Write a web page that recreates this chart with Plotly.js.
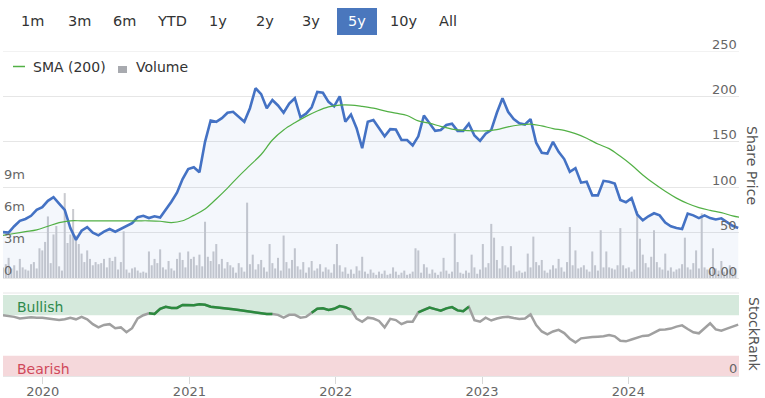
<!DOCTYPE html>
<html><head><meta charset="utf-8">
<script src="https://cdn.plot.ly/plotly-3.0.1.min.js"></script>
<style>html,body{margin:0;padding:0;background:#fff;}#chart{width:765px;height:398px;}</style>
</head><body><div id="chart"></div><script>
// ---------- DATA ----------
const seriesStart = '2019-09-24';
const priceStepDays = 14;
const price = [50.5,50,57,63,65,68.5,75,78,85,89,
 82,75,55,42,52,56,50,47,51,54,
 51,54,57.5,60.5,67,68.5,66,68,66.5,75,
 84,94,109,120,122,116.5,150,173.5,172,176,
 182,183,177,172,187,209,202.5,187,196,190,
 182,192,198,177,181,188,205,204,194,189,
 200,172,180,165,143,172,174,165,156,164,
 163.5,152,152,146,156,179,170,162,163,168.5,
 170,162,162,170,157,151,159,163,182,198,
 183,175,170.5,169,175,149,138,137,150,139,
 131,117,121,105,106,91,91,107,106,104,
 86,83.5,88,70,63.5,68,71.3,69,61,57,
 55,54,71,69,66,69,66,64.5,65.7,61.5,
 57.5,55];
const smaStepDays = 28;
const sma200 = [47,49,51,53,57,61,63,63,63,63,
 63,63,63,63,62.5,61,63,69,76,87,
 99,112,124,136,152,163,171,178,184,188.5,
 190.5,190.5,189,187,184,181.5,179,173,170.5,167,
 164,162.5,162,162,163.5,166.5,168.5,169.5,167.5,164.5,
 162.5,159,154,147.5,142.5,134,124.5,113.5,104,95.5,
 88,82,77.5,74.5,72,68.5,66];
const volumeStepDays = 7;
const volumeM = [1.0,1.3,1.9,0.9,1.2,0.7,1.8,1.0,0.8,0.7,
 1.3,1.5,0.9,2.8,2.6,3.4,5.8,1.4,4.1,4.9,
 1.1,0.7,8.0,3.3,4.1,6.5,4.0,3.2,2.3,1.5,
 2.6,1.8,1.2,1.5,1.3,1.4,1.8,1.0,1.9,1.6,
 2.0,0.8,1.5,4.4,0.8,0.5,0.9,1.0,0.7,0.5,
 0.6,0.5,2.5,1.2,1.8,1.4,2.7,1.0,0.8,1.6,
 0.9,0.7,1.8,2.4,1.7,1.0,2.5,1.8,2.0,1.2,
 2.2,1.1,5.3,2.0,1.6,2.5,3.2,1.3,1.8,0.9,
 1.5,1.2,1.0,0.5,1.4,1.0,0.6,7.1,1.3,2.2,
 0.8,1.3,1.7,1.0,0.6,3.2,1.4,0.9,1.9,0.7,
 4.0,1.5,0.9,1.7,2.8,1.1,0.8,1.5,0.5,1.0,
 1.6,0.7,0.9,1.3,0.6,1.0,0.8,0.5,1.3,3.2,
 1.2,0.6,1.0,0.4,0.8,0.4,1.1,0.7,2.0,0.6,
 0.4,0.8,0.5,0.3,0.6,0.4,0.7,0.3,0.4,1.0,
 0.6,0.3,0.5,0.7,0.3,0.4,0.6,2.8,2.6,0.5,
 1.3,1.0,0.4,0.8,0.5,0.3,0.6,1.9,0.7,0.4,
 0.6,4.2,1.5,0.5,0.4,0.7,0.5,2.2,1.0,0.4,
 0.8,3.2,1.0,1.4,5.1,3.8,1.7,0.9,3.0,1.2,
 1.0,3.0,1.2,0.6,0.7,0.5,0.6,2.3,1.0,3.9,
 1.5,1.2,1.7,0.7,0.5,0.8,1.2,0.9,1.8,1.0,
 0.6,1.5,4.8,1.2,2.6,0.9,1.0,1.2,0.8,0.6,
 2.5,1.2,0.7,4.5,1.0,2.5,1.0,0.9,0.8,1.2,
 4.7,1.2,0.9,1.0,0.6,0.8,6.3,3.7,2.2,1.4,
 1.0,2.0,4.5,1.5,1.0,0.8,2.3,0.7,1.0,0.6,
 0.8,0.9,1.3,3.8,1.0,0.8,1.4,2.6,0.9,6.1,
 1.0,0.8,0.7,2.8,0.9,0.7,1.6,0.6,0.8,1.2,
 1.0,0.9];
const rankStepDays = 14;
const stockRank = [75,74,73,71,72,72.5,72,72,71,70,
 69,70,72,70,73,70,64,60,63,64,
 59,60,54,59,71,75,77.5,76.5,83,85.5,
 84,84,87.7,87.7,87.5,88.5,88,85.5,84.5,83.5,
 83,82.3,81.5,80.5,79.5,78.5,78,76.5,76.5,75.5,
 72,75.5,75.5,72,73,78,83,83.5,81.5,83,
 86.4,85,82,71,67,72,71,68,60,70.5,
 69,64,67,67,78.6,82,84.5,82.5,80.6,83.5,
 85,81,80,85.5,69,67,72,68.5,71,72.5,
 73,71.5,70.5,71,76,63,55,51.5,55,57,
 53,46,41.5,46.5,47.5,48,48.5,49,50.5,49,
 43.5,42.8,45,47.5,49.5,50,53,57,57.5,58.5,
 61,62.5,58,54,52.7,59,65,57.5,56,58.5,
 61,63.5];
const bullishLevel = 76;
const rangeButtons = ['1m','3m','6m','YTD','1y','2y','3y','5y','10y','All'];
const selectedButton = '5y';
const yearTicks = ['2020-01-01','2021-01-01','2022-01-01','2023-01-01','2024-01-01'];
const yearLabels = ['2020','2021','2022','2023','2024'];
const priceTicks = [0,50,100,150,200,250];
const priceTickText = ['0.00','50','100','150','200','250'];
const volumeTicks = [0,3,6,9];
const volumeTickText = ['0','3m','6m','9m'];
const rankTicks = [0];
const rankTickText = ['0'];
const xRange = ['2019-09-24','2024-10-03'];

// ---------- LAYOUT HELPERS ----------
const L=3,R=739,T=51,B=376,W=R-L,H=B-T;
const px = x => (x-L)/W;
const py = y => (B-y)/H;
const DAY = 86400000;
const FONT = 'DejaVu Sans, sans-serif';
const priceDomain = [py(278), 1];
const rankDomain = [0, py(295)];

const bullish = stockRank.map(v => v >= bullishLevel ? v : null);

const traces = [
  {type:'bar', x0:seriesStart, dx:volumeStepDays*DAY, y:volumeM, xaxis:'x', yaxis:'y',
   marker:{color:'#c9cacf', line:{width:0}}, hoverinfo:'skip', showlegend:false},
  {type:'scatter', mode:'lines', x0:seriesStart, dx:priceStepDays*DAY, y:price, xaxis:'x', yaxis:'y2',
   line:{color:'#4472c4', width:2.6}, fill:'tozeroy', fillcolor:'rgba(68,114,196,0.06)', hoverinfo:'skip', showlegend:false},
  {type:'scatter', mode:'lines', x0:seriesStart, dx:smaStepDays*DAY, y:sma200, xaxis:'x', yaxis:'y2',
   line:{color:'#52b045', width:1.2, shape:'spline'}, hoverinfo:'skip', showlegend:false},
  {type:'scatter', mode:'lines', x0:seriesStart, dx:rankStepDays*DAY, y:stockRank, xaxis:'x', yaxis:'y3',
   line:{color:'#a0a0a0', width:2.5}, hoverinfo:'skip', showlegend:false},
  {type:'scatter', mode:'lines', x0:seriesStart, dx:rankStepDays*DAY, y:bullish, xaxis:'x', yaxis:'y3',
   line:{color:'#2b8a3e', width:2.5}, connectgaps:false, hoverinfo:'skip', showlegend:false}
];

const tickFont = {family:FONT, size:13, color:'#666'};
const btnCenters = [32.5,79.5,125,171.5,218,264.5,310.5,357,403,448];
const annotations = rangeButtons.map((b,i)=>({
  text:b, xref:'paper', yref:'paper', x:px(btnCenters[i]), y:py(21), xanchor:'center', yanchor:'middle',
  showarrow:false, font:{family:FONT, size:14.5, color: b===selectedButton ? '#ffffff' : '#333333'}
}));
// axis labels drawn above their grid lines (Highcharts style)
priceTicks.forEach((v,i)=>annotations.push({text:priceTickText[i], xref:'paper', yref:'y2', x:px(739), y:v,
  xanchor:'right', yanchor:'middle', yshift:7, showarrow:false, font:tickFont}));
volumeTicks.forEach((v,i)=>annotations.push({text:volumeTickText[i], xref:'paper', yref:'y', x:px(2), y:v,
  xanchor:'left', yanchor:'middle', yshift:7.5, showarrow:false, font:tickFont}));
rankTicks.forEach((v,i)=>annotations.push({text:rankTickText[i], xref:'paper', yref:'y3', x:px(739), y:v,
  xanchor:'right', yanchor:'middle', yshift:8, showarrow:false, font:tickFont}));
annotations.push(
  {text:'SMA (200)', xref:'paper', yref:'paper', x:px(31), y:py(67), xanchor:'left', yanchor:'middle', showarrow:false, font:{family:FONT,size:14,color:'#333'}},
  {text:'Volume', xref:'paper', yref:'paper', x:px(134), y:py(67), xanchor:'left', yanchor:'middle', showarrow:false, font:{family:FONT,size:14,color:'#333'}},
  {text:'Share Price', xref:'paper', yref:'paper', x:px(752), y:py(165), xanchor:'center', yanchor:'middle', textangle:90, showarrow:false, font:{family:FONT,size:14,color:'#555'}},
  {text:'StockRank', xref:'paper', yref:'paper', x:px(754), y:py(334), xanchor:'center', yanchor:'middle', textangle:90, showarrow:false, font:{family:FONT,size:14,color:'#555'}},
  {text:'Bullish', xref:'paper', yref:'y3', x:px(15), y:85, xanchor:'left', yanchor:'middle', showarrow:false, font:{family:FONT,size:14,color:'#2f8a4c'}},
  {text:'Bearish', xref:'paper', yref:'y3', x:px(15), y:9, xanchor:'left', yanchor:'middle', showarrow:false, font:{family:FONT,size:14,color:'#d0485a'}}
);

const shapes = [
  {type:'rect', xref:'paper', yref:'y3', x0:0, x1:1, y0:75, y1:100, fillcolor:'#d5e9dc', line:{width:0}, layer:'below'},
  {type:'rect', xref:'paper', yref:'y3', x0:0, x1:1, y0:0, y1:25, fillcolor:'#f5d8db', line:{width:0}, layer:'below'},
  {type:'line', xref:'paper', yref:'paper', x0:0, x1:1, y0:py(293), y1:py(293), line:{color:'#e6e6e6', width:1}},
  {type:'line', xref:'paper', yref:'y2', x0:0, x1:1, y0:250, y1:250, line:{color:'#e6e6e6', width:1}, layer:'below'},
  {type:'rect', xref:'paper', yref:'paper', x0:px(337), x1:px(377), y0:py(35), y1:py(8), fillcolor:'#4a77bd', line:{width:0}, layer:'below'},
  {type:'line', xref:'paper', yref:'paper', x0:px(13), x1:px(25), y0:py(66.5), y1:py(66.5), line:{color:'#52b045', width:1.5}},
  {type:'rect', xref:'paper', yref:'paper', x0:px(118), x1:px(127), y0:py(73), y1:py(66), fillcolor:'#a8aaaf', line:{width:0}}
];

const layout = {
  width:765, height:398, margin:{l:L, r:765-R, t:T, b:398-B, pad:0},
  paper_bgcolor:'#fff', plot_bgcolor:'rgba(0,0,0,0)', showlegend:false, bargap:0.28,
  font:{family:FONT},
  xaxis:{type:'date', range:xRange, anchor:'y3', tickvals:yearTicks, ticktext:yearLabels,
    ticks:'outside', ticklen:7, tickcolor:'#d8d8d8', ticklabelstandoff:-4, showgrid:false, showline:true, linecolor:'#e6e6e6',
    zeroline:false, tickfont:tickFont, fixedrange:true},
  yaxis:{domain:priceDomain, range:[0,21.39], side:'left', tickvals:volumeTicks,
    showticklabels:false, showgrid:false, zeroline:false, ticks:'', showline:false, fixedrange:true},
  yaxis2:{overlaying:'y', side:'right', range:[0,250], tickvals:priceTicks,
    showticklabels:false, showgrid:true, gridcolor:'#e6e6e6', zeroline:true,
    zerolinecolor:'#e6e6e6', zerolinewidth:1, ticks:'', showline:false, fixedrange:true},
  yaxis3:{domain:rankDomain, range:[0,100], side:'right', tickvals:rankTicks,
    showticklabels:false, showgrid:false, zeroline:false, ticks:'', showline:false, fixedrange:true},
  shapes:shapes, annotations:annotations
};
Plotly.newPlot('chart', traces, layout, {displayModeBar:false, staticPlot:true});
</script></body></html>
